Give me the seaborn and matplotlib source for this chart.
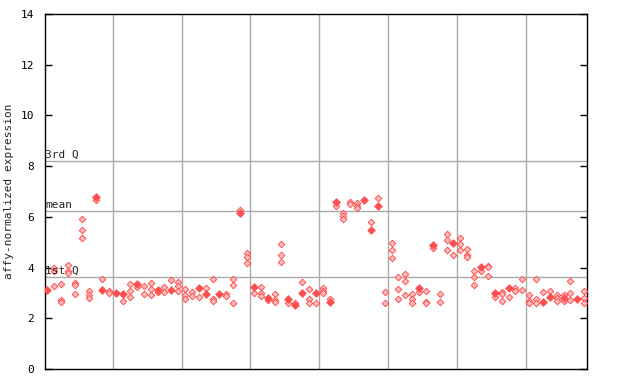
import matplotlib
matplotlib.use("Agg")
import matplotlib.pyplot as plt
import seaborn as sns
import pandas as pd

# ---- data ----
open_pts = [
    [], [4.00, 3.85, 3.27], [3.35, 2.72, 2.63], [4.10, 3.88, 3.80], [3.39, 3.30, 2.94],
    [5.90, 5.48, 5.17], [3.08, 2.92, 2.81], [6.66], [3.54], [3.09, 3.01],
    [], [2.67], [3.35, 3.08, 2.83], [3.22], [3.27, 2.94],
    [3.38, 3.14, 2.91], [3.05], [3.25, 3.05], [3.51], [3.44, 3.27, 3.09],
    [3.14, 2.93, 2.76], [3.05, 2.88], [2.84], [3.21], [3.54, 2.75, 2.68],
    [], [2.97, 2.87], [3.54, 3.31, 2.59], [6.27], [4.56, 4.40, 4.17],
    [2.98], [3.22, 3.01, 2.89], [2.72], [2.94, 2.72, 2.65], [4.92, 4.48, 4.21],
    [2.62], [2.60], [3.42], [3.14, 2.77, 2.62], [2.59],
    [3.18, 3.08, 2.98], [2.75], [6.43], [6.16, 6.04, 5.93], [6.58, 6.50],
    [6.56, 6.43, 6.35], [], [5.80], [6.73], [3.02, 2.61],
    [4.96, 4.69, 4.37], [3.61, 3.14, 2.75], [3.73, 3.46, 2.91], [2.94, 2.77, 2.61], [3.05],
    [3.06, 2.65, 2.60], [4.79], [2.94, 2.65], [5.31, 5.08, 4.68], [4.48],
    [5.15, 4.92, 4.68], [4.73, 4.50, 4.42], [3.85, 3.61, 3.30], [3.88], [4.07, 4.01, 3.65],
    [2.83], [3.05, 2.96, 2.67], [2.83], [3.18, 3.06], [3.54, 3.10],
    [2.91, 2.69, 2.62], [3.54, 2.77, 2.59], [3.02], [3.06], [2.91, 2.80, 2.67],
    [2.91, 2.67], [3.46, 2.98, 2.71], [], [3.09, 2.79, 2.62],
]
solid_pts = [
    3.10, None, None, None, None, None, None, 6.80, 3.13, None,
    2.98, 2.96, None, 3.34, None, None, 3.12, None, 3.13, None,
    None, None, 3.18, 2.96, None, 2.96, None, None, 6.14, None,
    3.25, None, 2.81, None, None, 2.77, 2.51, 3.00, None, 3.00,
    None, 2.65, 6.60, None, None, None, 6.66, 5.48, 6.43, None,
    None, None, None, None, 3.21, None, 4.88, None, None, 4.98,
    None, None, None, 4.03, None, 3.00, None, 3.21, None, None,
    None, None, 2.65, 2.83, None, 2.79, None, 2.75, None,
]
group_bounds = [9.5, 19.5, 29.5, 39.5, 49.5, 59.5, 69.5]
ref_lines = [8.21, 6.22, 3.61]
ref_labels = ["3rd Q", "mean", "1st Q"]
y_ticks = [0, 2, 4, 6, 8, 10, 12, 14]

# ---- tables ----
open_df = pd.DataFrame(
    [(i, v) for i, vals in enumerate(open_pts) for v in vals], columns=["x", "y"]
)
solid_df = pd.DataFrame(
    [(i, v) for i, v in enumerate(solid_pts) if v is not None], columns=["x", "y"]
)

sns.set_style("white")
plt.rcParams["font.family"] = ["DejaVu Sans Mono"]

fig = plt.figure(figsize=(6.4, 3.84), dpi=100)
ax = fig.add_axes([45 / 640, 15 / 384, 542 / 640, 355 / 384])

grid_c = "#aaaaaa"
for b in group_bounds:
    ax.axvline(b, color=grid_c, lw=1.0, zorder=1)
for v in ref_lines:
    ax.axhline(v, color=grid_c, lw=1.0, zorder=1)

red = "#ff4f4f"
sns.scatterplot(data=open_df, x="x", y="y", marker="D", s=11,
                color="#ffc0c0", edgecolor=red, linewidth=0.7, ax=ax, zorder=3)
sns.scatterplot(data=solid_df, x="x", y="y", marker="D", s=16,
                color=red, edgecolor=red, linewidth=0.5, ax=ax, zorder=4)

ax.set_xlim(-0.35, 78.4)
ax.set_ylim(0, 14)
ax.set_xticks([])
ax.set_yticks(y_ticks)
ax.set_yticklabels([str(t) for t in y_ticks], fontsize=8)
ax.tick_params(axis="y", direction="in", length=5, width=1, pad=8,
               left=True, right=True, labelleft=True, labelright=False, colors="black")
ax.set_xlabel("")
ax.set_ylabel("affy-normalized expression", fontsize=8)
ax.yaxis.set_label_coords(-0.058, 0.5)

for v, lab in zip(ref_lines, ref_labels):
    ax.text(-0.35, v + 0.05, lab, fontsize=8, ha="left", va="bottom", zorder=5)

for sp in ax.spines.values():
    sp.set_visible(True)
    sp.set_color("black")
    sp.set_linewidth(1.0)

fig.savefig("out.png", dpi=100)
